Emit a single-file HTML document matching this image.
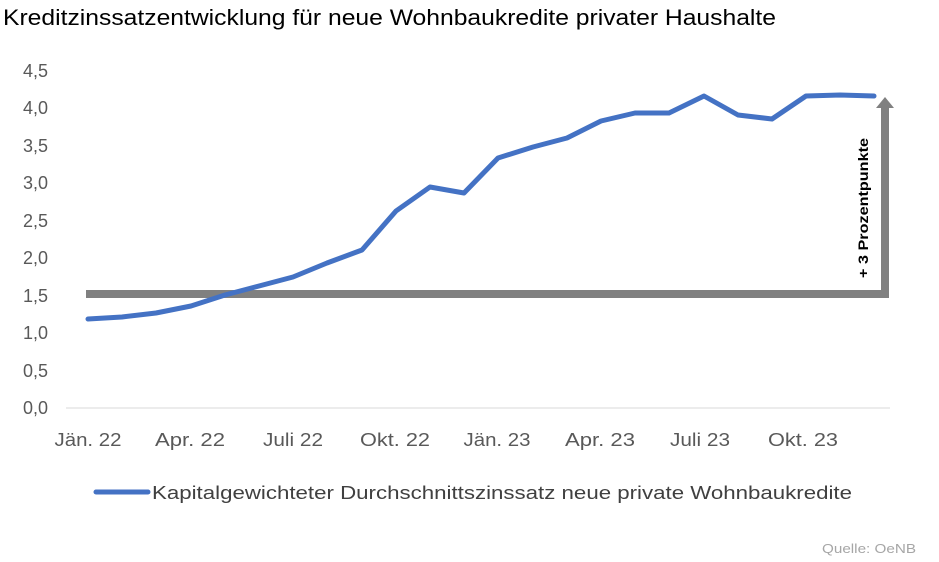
<!DOCTYPE html>
<html><head><meta charset="utf-8"><style>html,body{margin:0;padding:0;background:#fff}svg{display:block}</style></head>
<body>
<svg width="939" height="562" viewBox="0 0 939 562" xmlns="http://www.w3.org/2000/svg" font-family="'Liberation Sans Narrow','Liberation Sans',sans-serif">
<text x="3" y="25" font-size="22" fill="#000" textLength="773" lengthAdjust="spacingAndGlyphs">Kreditzinssatzentwicklung für neue Wohnbaukredite privater Haushalte</text>
<g font-size="18" fill="#595959" text-anchor="end">
<text x="48" y="77">4,5</text><text x="48" y="114">4,0</text><text x="48" y="152">3,5</text><text x="48" y="189">3,0</text><text x="48" y="227">2,5</text><text x="48" y="264">2,0</text><text x="48" y="302">1,5</text><text x="48" y="339">1,0</text><text x="48" y="377">0,5</text><text x="48" y="414">0,0</text>
</g>
<line x1="66" y1="408" x2="890" y2="408" stroke="#d9d9d9" stroke-width="1"/>
<g font-size="18" fill="#595959" text-anchor="middle">
<text x="88" y="446" textLength="67" lengthAdjust="spacingAndGlyphs">Jän. 22</text>
<text x="190" y="446" textLength="70" lengthAdjust="spacingAndGlyphs">Apr. 22</text>
<text x="293" y="446" textLength="60" lengthAdjust="spacingAndGlyphs">Juli 22</text>
<text x="395" y="446" textLength="70" lengthAdjust="spacingAndGlyphs">Okt. 22</text>
<text x="497" y="446" textLength="67" lengthAdjust="spacingAndGlyphs">Jän. 23</text>
<text x="600" y="446" textLength="70" lengthAdjust="spacingAndGlyphs">Apr. 23</text>
<text x="700" y="446" textLength="60" lengthAdjust="spacingAndGlyphs">Juli 23</text>
<text x="803" y="446" textLength="70" lengthAdjust="spacingAndGlyphs">Okt. 23</text>
</g>
<polyline fill="none" stroke="#808080" stroke-width="8" points="86,294 885,294 885,106"/>
<polygon fill="#808080" points="876,108 894,108 885,97"/>
<text transform="translate(868,208) rotate(-90)" font-size="14" font-weight="bold" fill="#000" text-anchor="middle" font-family="'Liberation Sans',sans-serif" textLength="140" lengthAdjust="spacingAndGlyphs">+ 3 Prozentpunkte</text>
<polyline fill="none" stroke="#4472c4" stroke-width="5" stroke-linejoin="round" stroke-linecap="round" points="88,319 122,317 156,313 191,306 225,295 259,286 293,277 327,263 362,250 396,211 430,187 464,193 498,158 533,147 567,138 601,121 635,113 669,113 704,96 738,115 772,119 806,96 840,95 874,96"/>
<line x1="96" y1="492" x2="148" y2="492" stroke="#4472c4" stroke-width="5" stroke-linecap="round"/>
<text x="152" y="499" font-size="18" fill="#404040" textLength="700" lengthAdjust="spacingAndGlyphs">Kapitalgewichteter Durchschnittszinssatz neue private Wohnbaukredite</text>
<text x="916" y="553" font-size="13" fill="#a6a6a6" text-anchor="end" textLength="94" lengthAdjust="spacingAndGlyphs">Quelle: OeNB</text>
</svg>
</body></html>
